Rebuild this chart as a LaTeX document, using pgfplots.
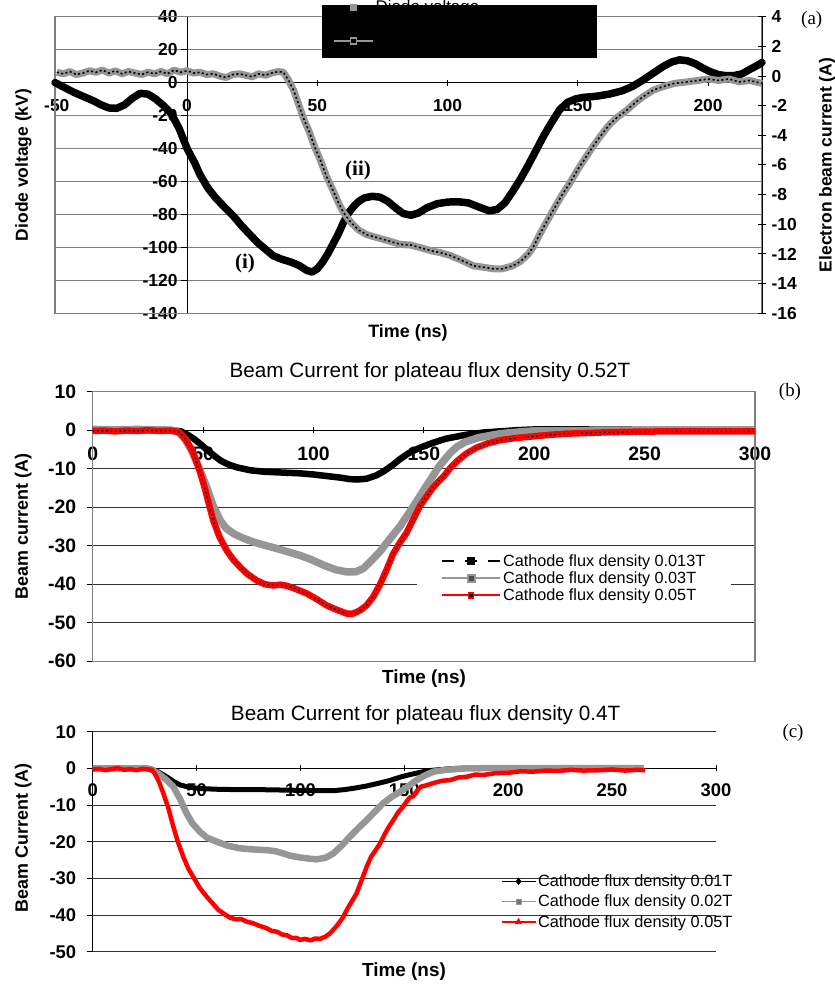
\documentclass[border=0pt]{standalone}
\usepackage{pgfplots}
\usepackage{pgfplotstable}
\pgfplotsset{compat=1.18}
\usepackage{fontspec}
\setmainfont{Liberation Sans}
\newfontfamily\seriffont{Liberation Serif}

\definecolor{bandgray}{RGB}{150,150,150}
\definecolor{gridgray}{RGB}{128,128,128}
\definecolor{griddark}{RGB}{50,50,50}

\newcommand{\fs}[1]{\fontsize{#1}{#1}\selectfont}

% ---------- (a) diode voltage [kV] and electron beam current [A] ----------
\pgfplotstableread{
t V
-50.7 0
-47 -3
-44 -5.5
-40 -8.3
-36 -11
-33 -13.5
-30 -15.4
-27 -15.6
-24 -13.5
-21 -9.5
-18 -6.5
-15 -7
-12 -10
-9 -14
-6 -19
-3 -28
0 -40
3 -49
5 -56
8 -64
11 -70
14 -75
17.8 -81
21 -87
24 -92
27 -97
30 -101
33 -105
36 -107
40 -109
43 -111
46 -114
48 -115
50 -113
52 -109
54 -104
56 -98
58 -92
60 -85
62 -79
64 -75
66 -72
68 -70
71 -69
74 -69.5
77 -72
80 -76
83 -79.5
86 -80.5
89 -79
92 -76
96 -73.5
100 -72.5
104 -72.3
108 -73
112 -75.5
116 -77.8
119 -77
122 -73
125 -66
128 -58.5
131 -50
134 -41
137 -32
140 -24
143 -16.5
146 -12
149 -10
152 -9
157 -8.3
162 -7
167 -5
171 -2.3
175 1.5
179 5.8
183 10
186 12.5
189 13.8
192 13.3
195 11.5
198 8.8
201 6.5
204 4.8
207 4.2
210 4.3
213 5.3
216 8
219 10.5
220.7 12.2
}\diodeV

\pgfplotstableread{
t I
-50 0.25
-47.5 0.15
-45 0.3
-42.5 0.1
-40 0.2
-37.5 0.35
-35 0.25
-32.5 0.4
-30 0.2
-27.5 0.35
-25 0.15
-22.5 0.3
-20 0.2
-17.5 0.1
-15 0.25
-12.5 0.15
-10 0.3
-7.5 0.15
-5 0.4
-2.5 0.25
0 0.35
2.5 0.2
5 0.25
7.5 0.1
10 0.15
12.5 0.0
15 -0.1
17.5 0.1
20 0.15
22.5 0.05
25 -0.05
27.5 0.15
30 0.05
32.5 0.2
35 0.3
37 0.25
39 -0.3
41 -1.0
43 -2.0
45 -3.0
47 -3.8
49 -4.8
51 -5.6
53.6 -6.8
56 -7.7
58 -8.5
60 -9.2
63 -9.9
66 -10.4
69 -10.7
73 -10.9
77 -11.1
81.8 -11.35
86 -11.4
90 -11.6
94 -11.8
97 -11.9
101 -12.1
105 -12.4
110 -12.8
114 -12.9
117.6 -13.0
121 -13.0
125 -12.8
128 -12.5
131 -12.0
133 -11.5
135 -10.8
137.5 -10.0
140.7 -9.0
144 -8.0
147 -7.2
150 -6.3
153 -5.5
156 -4.7
158.5 -4.1
162 -3.3
165 -2.8
168.8 -2.3
172 -1.8
175 -1.4
179 -0.95
183 -0.7
187 -0.5
191.8 -0.4
196 -0.3
200 -0.2
204 -0.3
208 -0.2
212 -0.4
216 -0.3
220.7 -0.5
}\beamA

% ---------- (b) plateau flux density 0.52 T ----------
\pgfplotstableread{
t I
0 0
10 0
20 0
30 0
36 0
40 -0.3
43 -1.2
46 -2.3
48.6 -3.5
52 -5.2
55 -6.6
57.7 -7.8
61 -8.8
65 -9.6
71.3 -10.4
78 -10.8
86 -11.0
94 -11.2
100 -11.5
106 -11.9
112 -12.3
116.5 -12.7
120 -12.8
124 -12.6
128.6 -11.7
132 -10.6
136 -9.0
139 -7.6
143 -6.0
148 -4.6
154 -3.3
160 -2.2
169 -1.2
177 -0.6
184.5 -0.3
192 0
200 0.2
220 0.2
250 0.1
300 0.1
}\bA

\pgfplotstableread{
t I
0 0.2
10 0.1
20 0.2
30 0.1
36 0
39 -0.6
42 -2.5
45 -5.5
48 -9.5
51.6 -14.7
54.5 -19.5
57.7 -23.4
60.5 -25.5
63.7 -26.8
68 -28.0
72.7 -29.0
78 -29.9
83.3 -30.7
88 -31.5
93.9 -32.5
99 -33.6
104.4 -35.0
110 -36.2
115 -36.8
119 -36.8
122.6 -35.9
126 -34.0
130 -31.6
134.5 -28.3
139 -25.1
143.5 -21.3
148 -17.3
152.8 -13.0
157 -9.3
161.8 -6.0
165 -4.3
169 -3.0
175 -1.9
184.5 -0.9
192 -0.5
199.5 -0.2
220 -0.1
250 0
300 0
}\bB

\pgfplotstableread{
t I
0 -0.2
5 -0.1
10 -0.3
15 -0.1
20 -0.2
25 0
30 -0.2
35 -0.1
37.5 -0.3
39.5 -0.6
42 -2.3
44 -4.2
45.6 -6.0
47 -8.2
48.6 -10.8
51 -15.5
52.8 -19.5
54.6 -23.4
57.5 -27.8
60.7 -31.2
63.5 -33.5
66.7 -35.5
70 -37.3
74.3 -39.0
78 -40.0
81.8 -40.3
85 -40.1
87.9 -40.4
91 -41.0
94 -41.7
97 -42.4
101 -43.7
106 -45.5
110 -46.5
115 -47.6
118 -47.6
121 -46.8
124 -45.5
127 -43.3
130 -40.2
133 -36.4
136 -32.2
139 -29.3
142 -26.8
145 -23.4
148 -19.9
151 -17.4
154 -15.0
156.5 -13.4
158.8 -12.1
162 -9.8
165.5 -7.8
169.4 -6.0
174 -4.5
179 -3.4
184.5 -2.6
192 -2.0
199.5 -1.6
207 -1.2
214.7 -0.9
225 -0.7
235 -0.5
244.7 -0.4
260 -0.3
280 -0.3
300 -0.3
}\bC

% ---------- (c) plateau flux density 0.4 T ----------
\pgfplotstableread{
t I
0 0
10 0
20 0
27.6 0
31 -0.8
35.6 -2.3
39 -3.6
42 -4.5
46 -5.1
51.6 -5.5
60 -5.7
70 -5.8
80 -5.8
90 -5.9
100 -6.0
108 -6.1
115.8 -6.1
121 -5.8
126 -5.4
131.9 -4.8
138 -4.0
143 -3.3
147.9 -2.4
152 -1.8
155.9 -1.3
160 -0.8
164 -0.5
172 -0.1
180 0.1
200 0.2
230 0.2
265 0.2
}\cA

\pgfplotstableread{
t I
0 0
15 0
26 0
29 -0.5
32 -1.6
35 -2.9
38.8 -5
42 -8.3
45.2 -12.3
48 -15
51.6 -17.3
55 -18.9
59.7 -20.0
65 -21.1
70.9 -21.8
77 -22.1
83.7 -22.3
88 -22.6
91.7 -23.2
95 -23.8
99.8 -24.3
104 -24.6
107.8 -24.8
112 -24.4
115.8 -23.2
120 -21.0
123.8 -18.6
127.8 -16.3
131.9 -14.1
135.8 -11.8
139.8 -9.5
143.8 -7.8
147.9 -6.4
152 -4.8
155.9 -3.2
160 -1.9
164 -0.9
170 -0.4
180 0
200 0.1
230 0.1
265 0.1
}\cB

\pgfplotstableread{
t I
0 -0.3
3 -0.1
6 -0.5
9 -0.2
12 0.1
15 -0.4
18 -0.2
21 -0.5
24 -0.1
27 -0.3
28.5 -0.4
30 -1.5
32 -3.8
34 -6.8
36.5 -11.0
38.8 -15.9
41 -20.0
43.6 -24.1
46 -27.3
48.4 -29.6
51.5 -32.6
54.9 -35.0
58 -37.0
60.5 -38.6
62.8 -39.5
66 -40.7
69 -41.2
71.5 -41.1
74.1 -41.8
77 -42.2
80 -42.9
83.7 -43.6
86 -44.3
89 -44.6
91 -45.3
93.4 -45.5
96 -46.3
98 -46.2
99.8 -46.8
102 -46.5
105 -46.9
107 -46.4
109.4 -46.5
112 -45.9
114.2 -45.0
116.5 -43.6
118.5 -42.2
120.6 -40.5
122.5 -38.4
124.8 -36.2
127 -34.1
129.5 -30.4
131.9 -26.8
134 -24.1
136.2 -22.3
138.3 -20.5
140.5 -18.0
142.5 -16.0
144.7 -14.1
147 -12.0
149 -10.7
150.5 -9.5
152.7 -7.9
154.3 -7.6
156 -6.2
157.9 -5.0
160.7 -4.6
164 -4.0
168 -3.4
172 -3.2
176 -2.5
180 -2.3
184 -1.7
188 -1.8
194 -1.3
200 -1.2
206 -0.8
212 -0.9
218 -0.6
224 -0.7
230 -0.4
236 -0.6
244 -0.5
250 -0.3
256 -0.6
262 -0.4
265.8 -0.5
}\cC

\pgfplotsset{
  % frame, grid, ticks and tick labels of a panel
  panel/.style={
    scale only axis,
    anchor=south west,
    axis lines=middle,
    axis line style={-, line width=1bp, black},
    every inner x axis line/.append style={-},
    every inner y axis line/.append style={-},
    hide obscured x ticks=false,
    hide obscured y ticks=false,
    /pgf/number format/assume math mode=true,
    major tick length=6bp,
    major tick style={black, line width=1bp},
    xtick align=center,
    ytick align=outside,
    ymajorgrids,
    clip=false,
  },
  % the curves of a panel, drawn over its tick labels
  curves/.style={
    scale only axis,
    anchor=south west,
    hide axis,
    clip=false,
    legend cell align=left,
  },
}

\begin{document}
\begin{tikzpicture}
\useasboundingbox (0,0) rectangle (835bp,988bp);

% ===================== panel (a) =====================
\begin{axis}[panel,
  at={(55bp,674.7bp)}, width=707bp, height=296.6bp,
  xmin=-50.7, xmax=220.7, ymin=-140, ymax=40,
  xtick={-50,0,...,200}, ytick={-140,-120,...,40},
  grid style={gridgray, line width=1.2bp},
  ticklabel style={font=\fs{17.5}\bfseries},
  xticklabel style={yshift=-10bp},
]
\draw[gridgray, line width=1.2bp] (rel axis cs:0,0) rectangle (rel axis cs:1,1);
\fill[black] (axis cs:51.7,47.1) rectangle (axis cs:157.3,14.9);
\end{axis}

\begin{axis}[scale only axis, anchor=south west,
  at={(55bp,674.7bp)}, width=707bp, height=296.6bp,
  xmin=-50.7, xmax=220.7, ymin=-16, ymax=4,
  axis x line=none, axis y line*=right,
  axis line style={-, line width=1bp, black},
  ytick={-16,-14,...,4},
  ytick align=center, major tick length=8bp,
  major tick style={black, line width=1bp},
  /pgf/number format/assume math mode=true,
  ticklabel style={font=\fs{17.5}\bfseries},
  yticklabel style={xshift=2bp},
]
\end{axis}

\begin{axis}[curves,
  at={(55bp,674.7bp)}, width=707bp, height=296.6bp,
  xmin=-50.7, xmax=220.7, ymin=-140, ymax=40,
]
\addplot[black, line width=7.5bp, line join=round, line cap=round] table[x=t, y=V] {\diodeV};
\end{axis}

\begin{axis}[curves,
  at={(55bp,674.7bp)}, width=707bp, height=296.6bp,
  xmin=-50.7, xmax=220.7, ymin=-16, ymax=4,
  legend image code/.code={\draw[mark repeat=2,mark phase=2,#1] plot coordinates {(0bp,0bp) (19.5bp,0bp) (39bp,0bp)};},
  legend style={at={(rel axis cs:0.3932,0.8877)}, anchor=south west, fill=none, draw=none,
    inner sep=0pt, font=\fs{17}, row sep=16bp, text=black,
    /tikz/every even column/.append style={column sep=6bp}},
]
\addplot[bandgray, line width=7bp, line join=round, forget plot] table[x=t, y=I] {\beamA};
\addplot[black, line width=1.6bp, dash pattern=on 2bp off 2.5bp, forget plot] table[x=t, y=I] {\beamA};
\addlegendimage{black, line width=1bp, mark=square*, mark size=3bp, mark options={fill=bandgray, draw=bandgray}}
\addlegendentry{Diode voltage}
\addlegendimage{bandgray, line width=1.5bp, mark=square*, mark size=3bp, mark options={draw=bandgray, fill=black, line width=1.5bp}}
\addlegendentry{Electron beam current}
\end{axis}

\node[rotate=90, font=\fs{17.5}\bfseries] at (23.3bp,823bp) {Diode voltage (kV)};
\node[rotate=90, font=\fs{17.5}\bfseries] at (827bp,823bp) {Electron beam current (A)};
\node[font=\fs{18}\bfseries] at (408bp,654.7bp) {Time (ns)};
\node[font=\fs{19}\seriffont] at (811.7bp,968bp) {(a)};
\node[font=\fs{21}\seriffont\bfseries] at (245bp,725bp) {(i)};
\node[font=\fs{21}\seriffont\bfseries] at (358bp,818bp) {(ii)};

% ===================== panel (b) =====================
\begin{axis}[panel,
  at={(92.7bp,326.7bp)}, width=662.3bp, height=269.6bp,
  xmin=0, xmax=300, ymin=-60, ymax=10,
  xtick={0,50,...,300}, ytick={-60,-50,...,10},
  grid style={griddark, line width=1bp},
  ticklabel style={font=\fs{19.5}\bfseries},
  xticklabel style={yshift=-10bp},
  yticklabel style={xshift=-7bp},
]
\draw[gridgray, line width=1.2bp] (rel axis cs:0,0) rectangle (rel axis cs:1,1);
\end{axis}

\begin{axis}[curves,
  at={(92.7bp,326.7bp)}, width=662.3bp, height=269.6bp,
  xmin=0, xmax=300, ymin=-60, ymax=10,
  legend image code/.code={\draw[mark repeat=2,mark phase=2,#1] plot coordinates {(0bp,0bp) (29bp,0bp) (58bp,0bp)};},
  legend style={at={(rel axis cs:0.4897,0.42)}, anchor=north west, fill=white, draw=none,
    inner xsep=24bp, inner ysep=4bp, font=\fs{16.3}, row sep=0bp,
    /tikz/every even column/.append style={column sep=5bp}},
]
\addplot[black, line width=6.5bp, line join=round, forget plot] table[x=t, y=I] {\bA};
\addplot[bandgray, line width=7.5bp, line join=round, forget plot] table[x=t, y=I] {\bB};
\addplot[red, line width=6.5bp, line join=round, forget plot] table[x=t, y=I] {\bC};
\addplot[black, line width=1.3bp, dash pattern=on 1.5bp off 3bp, forget plot] table[x=t, y=I] {\bC};
\addlegendimage{black, line width=1.5bp, dash pattern=on 12bp off 11bp, mark=square*, mark size=3bp, mark options={solid}}
\addlegendentry{Cathode flux density 0.013T}
\addlegendimage{bandgray, line width=1.5bp, mark=square*, mark size=3.5bp, mark options={fill=black!70, draw=bandgray, line width=2bp}}
\addlegendentry{Cathode flux density 0.03T}
\addlegendimage{red, line width=1.8bp, mark=square*, mark size=2.5bp, mark options={fill=black, draw=red, line width=1.5bp}}
\addlegendentry{Cathode flux density 0.05T}
\end{axis}

\node[font=\fs{20.8}] at (430bp,616.3bp) {Beam Current for plateau flux density 0.52T};
\node[rotate=90, font=\fs{18}\bfseries] at (23.3bp,461.5bp) {Beam current (A)};
\node[font=\fs{19}\bfseries] at (424bp,309.7bp) {Time (ns)};
\node[font=\fs{19}\seriffont] at (790bp,596.3bp) {(b)};

% ===================== panel (c) =====================
\begin{axis}[panel,
  at={(92.7bp,36.3bp)}, width=623.3bp, height=220bp,
  xmin=0, xmax=300, ymin=-50, ymax=10,
  xtick={0,50,...,300}, ytick={-50,-40,...,10},
  grid style={griddark, line width=1bp},
  ticklabel style={font=\fs{18.5}\bfseries},
  xticklabel style={yshift=-9bp},
  yticklabel style={xshift=-7bp},
]
\end{axis}

\begin{axis}[curves,
  at={(92.7bp,36.3bp)}, width=623.3bp, height=220bp,
  xmin=0, xmax=300, ymin=-50, ymax=10,
  legend image code/.code={\draw[mark repeat=2,mark phase=2,#1] plot coordinates {(0bp,0bp) (17bp,0bp) (34bp,0bp)};},
  legend style={at={(rel axis cs:0.6546,0.36)}, anchor=north west, fill=none, draw=none,
    inner sep=0pt, font=\fs{16.4}, row sep=3bp,
    /tikz/every even column/.append style={column sep=5bp}},
]
\addplot[black, line width=5bp, line join=round, forget plot] table[x=t, y=I] {\cA};
\addplot[bandgray, line width=6.5bp, line join=round, forget plot] table[x=t, y=I] {\cB};
\addplot[red, line width=4.5bp, line join=round, forget plot] table[x=t, y=I] {\cC};
\addlegendimage{black, line width=1.2bp, mark=diamond*, mark size=2.8bp}
\addlegendentry{Cathode flux density 0.01T}
\addlegendimage{bandgray, line width=1.2bp, mark=square*, mark size=2.5bp, mark options={fill=black!55, draw=bandgray, line width=1bp}}
\addlegendentry{Cathode flux density 0.02T}
\addlegendimage{red, line width=1.2bp, mark=triangle*, mark size=3bp}
\addlegendentry{Cathode flux density 0.05T}
\end{axis}

\node[font=\fs{20.8}] at (425.6bp,273bp) {Beam Current for plateau flux density 0.4T};
\node[rotate=90, font=\fs{18}\bfseries] at (23.3bp,150bp) {Beam Current (A)};
\node[font=\fs{19}\bfseries] at (404bp,16.3bp) {Time (ns)};
\node[font=\fs{19}\seriffont] at (793bp,255bp) {(c)};
\end{tikzpicture}
\end{document}
